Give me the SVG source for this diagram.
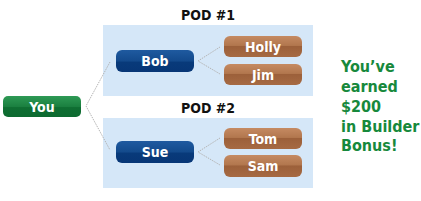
<svg xmlns="http://www.w3.org/2000/svg" width="421" height="201" viewBox="0 0 421 201">
<defs>
<linearGradient id="gGreen" x1="0" y1="0" x2="0" y2="1">
<stop offset="0" stop-color="#2e9a55"/><stop offset="0.5" stop-color="#1b8040"/><stop offset="0.55" stop-color="#0f6e32"/><stop offset="1" stop-color="#0d6a30"/>
</linearGradient>
<linearGradient id="gBlue" x1="0" y1="0" x2="0" y2="1">
<stop offset="0" stop-color="#1f5aa0"/><stop offset="0.5" stop-color="#134a8c"/><stop offset="0.55" stop-color="#083a7a"/><stop offset="1" stop-color="#073676"/>
</linearGradient>
<linearGradient id="gBrown" x1="0" y1="0" x2="0" y2="1">
<stop offset="0" stop-color="#c58a62"/><stop offset="0.45" stop-color="#b2774e"/><stop offset="0.5" stop-color="#9c603a"/><stop offset="1" stop-color="#a66a43"/>
</linearGradient>
<style>
.pod{fill:#d5e7f8}
.lbl{font-family:"DejaVu Sans Condensed","Liberation Sans",sans-serif;font-weight:bold;font-size:14px;fill:#111;text-anchor:middle}
.nt{font-family:"DejaVu Sans Condensed","Liberation Sans",sans-serif;font-weight:bold;font-size:14px;fill:#fff;text-anchor:middle}
.con{stroke:#b4b4b4;stroke-width:1;stroke-dasharray:1.5 1;fill:none}
.bonus{font-family:"DejaVu Sans Condensed","Liberation Sans",sans-serif;font-weight:bold;font-size:16px;fill:#17893c}
</style>
</defs>
<rect width="421" height="201" fill="#fff"/>
<g id="pod1">
<rect class="pod" x="103" y="25" width="210" height="71"/>
<text class="lbl" x="208" y="20">POD #1</text>
</g>
<g id="pod2">
<rect class="pod" x="103" y="118" width="210" height="70"/>
<text class="lbl" x="208" y="113">POD #2</text>
</g>
<g id="connectors">
<polyline class="con" points="110,62 86,106 110,150"/>
<polyline class="con" points="220,47 198,61 220,74"/>
<polyline class="con" points="220,138 198,152 220,165"/>
</g>
<g id="you">
<rect x="3" y="96" width="78" height="21" rx="5" fill="url(#gGreen)"/>
<text class="nt" x="42" y="111.5">You</text>
</g>
<g id="bob">
<rect x="116" y="50" width="78" height="22" rx="6" fill="url(#gBlue)"/>
<text class="nt" x="155" y="66">Bob</text>
</g>
<g id="holly">
<rect x="224" y="36" width="78" height="21" rx="6" fill="url(#gBrown)"/>
<text class="nt" x="263" y="51.5">Holly</text>
</g>
<g id="jim">
<rect x="224" y="64" width="78" height="21" rx="6" fill="url(#gBrown)"/>
<text class="nt" x="263" y="79.5">Jim</text>
</g>
<g id="sue">
<rect x="116" y="141" width="78" height="22" rx="6" fill="url(#gBlue)"/>
<text class="nt" x="155" y="157">Sue</text>
</g>
<g id="tom">
<rect x="224" y="128" width="78" height="21" rx="6" fill="url(#gBrown)"/>
<text class="nt" x="263" y="143.5">Tom</text>
</g>
<g id="sam">
<rect x="224" y="155" width="78" height="22" rx="6" fill="url(#gBrown)"/>
<text class="nt" x="263" y="171">Sam</text>
</g>
<g id="bonus">
<text class="bonus" x="341" y="72">You’ve</text>
<text class="bonus" x="341" y="92">earned</text>
<text class="bonus" x="341" y="112">$200</text>
<text class="bonus" x="341" y="132">in Builder</text>
<text class="bonus" x="341" y="151">Bonus!</text>
</g>
</svg>
